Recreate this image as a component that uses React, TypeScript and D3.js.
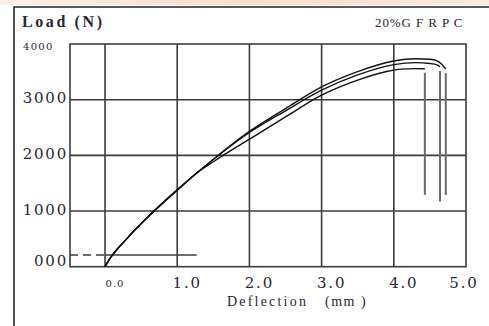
import React from "react";
import * as d3 from "d3";

const W = 489;
const H = 326;

// Deflection (mm) grid values and labels
const xGrid = [0, 1, 2, 3, 4];
const xTickValues = [0, 1, 2, 3, 4, 5];
const xTickLabels = ["0.0", "1.0", "2.0", "3.0", "4.0", "5.0"];
// Load (N)
const yGrid = [1000, 2000, 3000];
const yTickValues = [0, 1000, 2000, 3000];
const yTickLabels = ["000", "1000", "2000", "3000"];

// Three specimen curves (deflection mm, load N)
const curveA_x = [0, 0.05, 0.3, 0.6, 1.0, 1.5, 2.0, 2.5, 3.0, 3.5, 4.0, 4.3, 4.5, 4.6, 4.66, 4.72];
const curveA_y = [0, 110, 500, 900, 1380, 1930, 2430, 2840, 3230, 3505, 3695, 3735, 3725, 3695, 3640, 3550];
const curveA_drop = 1290;

const curveB_x = [0, 0.05, 0.3, 0.6, 1.0, 1.5, 2.0, 2.5, 3.0, 3.5, 4.0, 4.3, 4.5, 4.6, 4.64];
const curveB_y = [0, 110, 500, 900, 1380, 1925, 2410, 2800, 3170, 3445, 3630, 3665, 3650, 3625, 3590];
const curveB_drop = 1170;

const curveC_x = [0, 0.05, 0.3, 0.6, 1.0, 1.3, 1.5, 2.0, 2.5, 3.0, 3.5, 3.9, 4.1, 4.3, 4.43];
const curveC_y = [0, 110, 500, 900, 1375, 1710, 1885, 2290, 2690, 3080, 3350, 3505, 3548, 3558, 3555];
const curveC_drop = 1290;

// Reference horizontal line near the origin
const refLoad = 210;
const refXStart = -0.485;
const refXDashEnd = 0;
const refXEnd = 1.27;

const x = d3.scaleLinear().domain([-0.485, 5]).range([70, 466]);
const y = d3.scaleLinear().domain([0, 4000]).range([266.7, 44]);

const line = d3
  .line<[number, number]>()
  .x((d) => x(d[0]))
  .y((d) => y(d[1]))
  .curve(d3.curveMonotoneX);

function curvePath(xs: number[], ys: number[]) {
  const pts = xs.map((v, i) => [v, ys[i]] as [number, number]);
  return line(pts) || "";
}

function dropPath(xs: number[], ys: number[], drop: number) {
  const xe = xs[xs.length - 1];
  const ye = ys[ys.length - 1];
  return `M${x(xe)},${y(ye) + 4}L${x(xe)},${y(drop)}`;
}

const curves = [
  { xs: curveA_x, ys: curveA_y, drop: curveA_drop },
  { xs: curveB_x, ys: curveB_y, drop: curveB_drop },
  { xs: curveC_x, ys: curveC_y, drop: curveC_drop },
];

const serif = "'Liberation Serif', 'Times New Roman', serif";
const serif2 = "'DejaVu Serif', serif";
const textColor = "#2a2633";
const gridColor = "#3c3c3c";

export default function App() {
  return (
    <svg
      width={W}
      height={H}
      style={{ position: "absolute", left: 0, top: 0, background: "#fff" }}
    >
      <defs>
        <linearGradient id="band" x1="0" x2="1" y1="0" y2="0">
          <stop offset="0" stopColor="#fdf0e8" />
          <stop offset="0.5" stopColor="#fbdcc8" />
          <stop offset="1" stopColor="#fde9de" />
        </linearGradient>
      </defs>
      <rect x={0} y={0} width={W} height={5} fill="url(#band)" />

      {/* outer frame */}
      <line x1={14} x2={14} y1={6.5} y2={H} stroke="#222" strokeWidth={1.6} />
      <line x1={14} x2={W} y1={7} y2={7} stroke="#222" strokeWidth={1.4} />

      {/* grid */}
      {xGrid.map((v) => (
        <line key={"gx" + v} x1={x(v)} x2={x(v)} y1={y(4000)} y2={y(0)} stroke={gridColor} strokeWidth={1.6} />
      ))}
      {yGrid.map((v) => (
        <line key={"gy" + v} x1={x(-0.485)} x2={x(5)} y1={y(v)} y2={y(v)} stroke={gridColor} strokeWidth={1.6} />
      ))}
      <rect
        x={x(-0.485)}
        y={y(4000)}
        width={x(5) - x(-0.485)}
        height={y(0) - y(4000)}
        fill="none"
        stroke={gridColor}
        strokeWidth={1.6}
      />

      {/* reference line */}
      <line
        x1={x(refXStart)}
        x2={x(refXDashEnd)}
        y1={y(refLoad)}
        y2={y(refLoad)}
        stroke={gridColor}
        strokeWidth={1.4}
        strokeDasharray="8,5"
      />
      <line
        x1={x(refXDashEnd)}
        x2={x(refXEnd)}
        y1={y(refLoad)}
        y2={y(refLoad)}
        stroke={gridColor}
        strokeWidth={1.4}
      />

      {/* curves */}
      {curves.map((c, i) => (
        <g key={"c" + i}>
          <path d={curvePath(c.xs, c.ys)} fill="none" stroke="#111" strokeWidth={1.4} />
          <path d={dropPath(c.xs, c.ys, c.drop)} fill="none" stroke="#6a6a6a" strokeWidth={2} />
        </g>
      ))}

      {/* y tick labels */}
      {yTickValues.map((v, i) => (
        <text
          key={"yl" + v}
          x={68}
          y={v === 0 ? y(v) - 0.5 : y(v) + 3.5}
          textAnchor="end"
          fontFamily={serif2}
          fontSize={15}
          letterSpacing={1.8}
          fill={textColor}
        >
          {yTickLabels[i]}
        </text>
      ))}
      <text x={23} y={50} fontFamily={serif2} fontSize={10} letterSpacing={1.3} fill={textColor}>
        4000
      </text>

      {/* x tick labels */}
      {xTickValues.map((v, i) => {
        const small = v === 0;
        const cx = i === xTickValues.length - 1 ? x(v) - 2 : x(v) + 10;
        return (
          <text
            key={"xl" + v}
            x={cx}
            y={small ? 287 : 288}
            textAnchor="middle"
            fontFamily={serif2}
            fontSize={small ? 10 : 15}
            letterSpacing={small ? 1 : 1.8}
            fill={textColor}
          >
            {xTickLabels[i]}
          </text>
        );
      })}

      {/* axis titles */}
      <text x={227} y={306} fontFamily={serif} fontSize={14} letterSpacing={2.2} fill={textColor}>
        Deflection
      </text>
      <text x={325} y={306} fontFamily={serif} fontSize={14} letterSpacing={1.5} fill={textColor}>
        (mm )
      </text>
      <text x={22} y={27} fontFamily={serif} fontSize={16} fontWeight="bold" letterSpacing={2.6} fill={textColor}>
        Load (N)
      </text>
      <text x={375} y={27} fontFamily={serif} fontSize={13} letterSpacing={0.9} fill={textColor}>
        20%G F R P C
      </text>
    </svg>
  );
}
